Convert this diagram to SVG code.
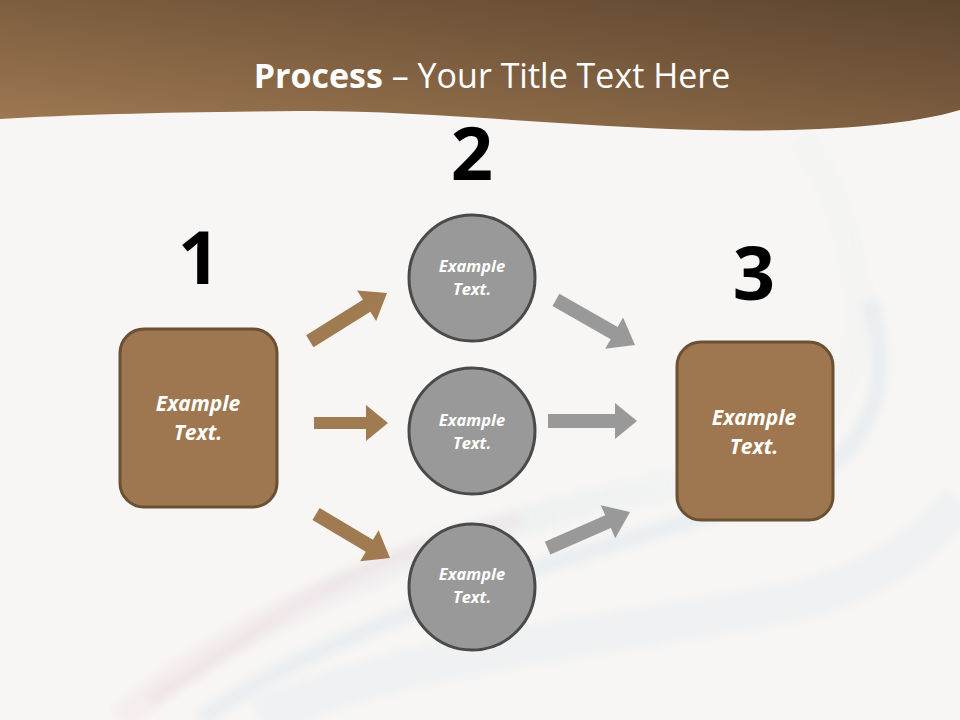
<svg xmlns="http://www.w3.org/2000/svg" width="960" height="720" viewBox="0 0 960 720">
<defs>
<linearGradient id="ban" x1="0" y1="1" x2="1" y2="0">
<stop offset="0" stop-color="#a07a52"/>
<stop offset="0.5" stop-color="#7d5e40"/>
<stop offset="1" stop-color="#5c452e"/>
</linearGradient>
<linearGradient id="sw1" x1="0" y1="0" x2="1" y2="0">
<stop offset="0" stop-color="#e8c8d0" stop-opacity="0.5"/>
<stop offset="0.5" stop-color="#c8dce8" stop-opacity="0.6"/>
<stop offset="1" stop-color="#d8e4ee" stop-opacity="0.3"/>
</linearGradient>
<filter id="soft" x="-10%" y="-10%" width="120%" height="120%"><feGaussianBlur stdDeviation="4"/></filter>
<style>
.lbl{font-family:"Open Sans","Liberation Sans",sans-serif;font-weight:bold;font-style:italic;fill:#ffffff;text-anchor:middle}
.num{font-family:"Open Sans","Liberation Sans",sans-serif;font-weight:bold;fill:#000000;text-anchor:middle;font-size:74px}
.box{fill:#9e7750;stroke:#6b5033;stroke-width:3}
.circ{fill:#999999;stroke:#4a4a4a;stroke-width:3}
.ab{fill:#a07a50}
.ag{fill:#999999}
</style>
</defs>
<rect x="0" y="0" width="960" height="720" fill="#f8f6f4"/>
<g id="swirls" fill="none" filter="url(#soft)">
<path d="M120,720 C260,600 480,520 700,480 C820,460 880,380 850,250 C840,200 820,160 800,140" stroke="url(#sw1)" stroke-width="30" opacity="0.35"/>
<path d="M200,720 C340,620 560,560 760,500 C860,470 900,400 870,300" stroke="#d0e0ea" stroke-width="18" opacity="0.35"/>
<path d="M260,720 C400,650 600,640 800,600 C880,580 930,540 960,500" stroke="#dce6ee" stroke-width="40" opacity="0.3"/>
<path d="M150,700 C250,640 330,560 520,520" stroke="#ecd6dc" stroke-width="14" opacity="0.35"/>
</g>
<path id="banner" d="M0,0 H960 V110 C900,128 800,132 700,130 C560,126 420,110 300,111 C180,112 80,114 0,119 Z" fill="url(#ban)"/>
<text x="492" y="88" font-family="'Open Sans','Liberation Sans',sans-serif" font-size="34" fill="#ffffff" text-anchor="middle"><tspan font-weight="bold">Process</tspan> – Your Title Text Here</text>
<g id="connectors">
<polygon class="ab" transform="translate(387,293) rotate(-32)" points="0,0 -24,-18 -24,-7 -91,-7 -91,7 -24,7 -24,18"/>
<polygon class="ab" transform="translate(388,423)" points="0,0 -22,-18 -22,-6 -74,-6 -74,6 -22,6 -22,18"/>
<polygon class="ab" transform="translate(390,558) rotate(30.7)" points="0,0 -24,-18 -24,-7 -86,-7 -86,7 -24,7 -24,18"/>
<polygon class="ag" transform="translate(635,345) rotate(29.7)" points="0,0 -24,-18 -24,-7 -91,-7 -91,7 -24,7 -24,18"/>
<polygon class="ag" transform="translate(637,421)" points="0,0 -22,-18 -22,-7 -89,-7 -89,7 -22,7 -22,18"/>
<polygon class="ag" transform="translate(630,512) rotate(-23.7)" points="0,0 -24,-18 -24,-7 -90,-7 -90,7 -24,7 -24,18"/>
</g>
<g id="n1">
<text class="num" x="199" y="284">1</text>
<rect class="box" x="120" y="329" width="157" height="178" rx="24"/>
<text class="lbl" x="198" y="411" font-size="21">Example</text>
<text class="lbl" x="198" y="440" font-size="21">Text.</text>
</g>
<g id="n2a">
<text class="num" x="472" y="180">2</text>
<circle class="circ" cx="472" cy="278" r="63"/>
<text class="lbl" x="472" y="272" font-size="16.5">Example</text>
<text class="lbl" x="472" y="295" font-size="16.5">Text.</text>
</g>
<g id="n2b">
<circle class="circ" cx="472" cy="431" r="63"/>
<text class="lbl" x="472" y="426" font-size="16.5">Example</text>
<text class="lbl" x="472" y="449" font-size="16.5">Text.</text>
</g>
<g id="n2c">
<circle class="circ" cx="472" cy="587" r="63"/>
<text class="lbl" x="472" y="580" font-size="16.5">Example</text>
<text class="lbl" x="472" y="603" font-size="16.5">Text.</text>
</g>
<g id="n3">
<text class="num" x="754" y="300">3</text>
<rect class="box" x="677" y="342" width="156" height="178" rx="24"/>
<text class="lbl" x="754" y="425" font-size="21">Example</text>
<text class="lbl" x="754" y="454" font-size="21">Text.</text>
</g>
</svg>
